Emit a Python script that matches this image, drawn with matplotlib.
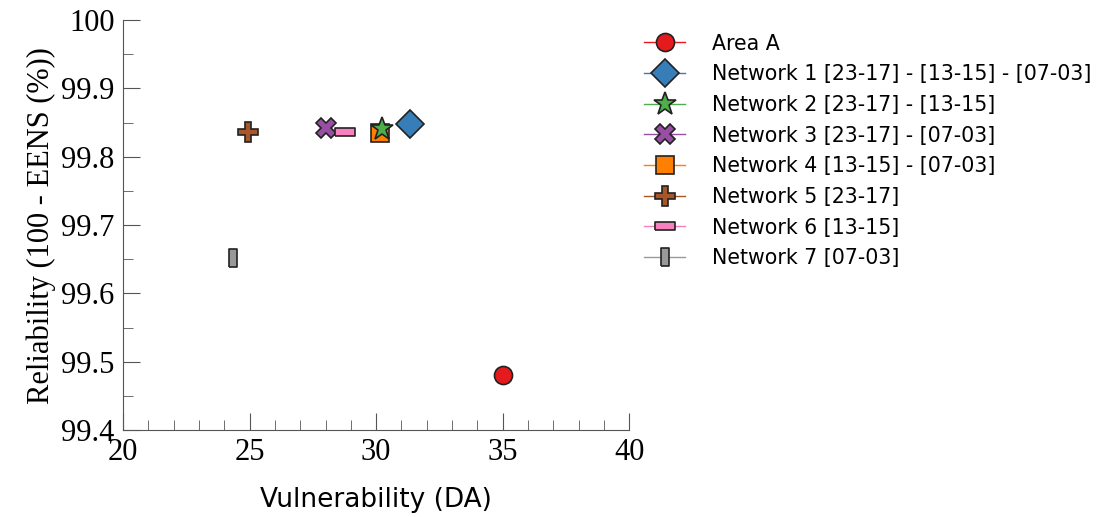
import numpy as np
import matplotlib
matplotlib.use('Agg')
import matplotlib.pyplot as plt

# data
labels = ['Area A',
          'Network 1 [23-17] - [13-15] - [07-03]',
          'Network 2 [23-17] - [13-15]',
          'Network 3 [23-17] - [07-03]',
          'Network 4 [13-15] - [07-03]',
          'Network 5 [23-17]',
          'Network 6 [13-15]',
          'Network 7 [07-03]']
vulnerability = [35.0, 31.35, 30.24, 28.0, 30.16, 24.94, 28.77, 24.35]
reliability = [99.48, 99.848, 99.840, 99.842, 99.835, 99.837, 99.836, 99.652]

colors = ['#e41a1c', '#377eb8', '#4daf4a', '#984ea3', '#ff7f00', '#a65628', '#f781bf', '#999999']
hrect = [(-1, -0.45), (1, -0.45), (1, 0.45), (-1, 0.45), (-1, -0.45)]
vrect = [(-0.45, -1), (0.45, -1), (0.45, 1), (-0.45, 1), (-0.45, -1)]
markers = ['o', 'D', '*', 'X', 's', 'P', hrect, vrect]
sizes = [13, 14, 17, 15, 13, 14, 14, 13]
zorders = [3, 3, 5, 3, 4, 3, 3, 3]

serif = 'Liberation Serif'
sans = 'DejaVu Sans'

fig = plt.figure(figsize=(11.08, 5.17), dpi=100)
ax = fig.add_axes([0.111, 0.168, 0.457, 0.793])

for x, y, c, m, s, z, lab in zip(vulnerability, reliability, colors, markers, sizes, zorders, labels):
    ax.plot([x], [y], color=c, lw=1, marker=m, markersize=s,
            markerfacecolor=c, markeredgecolor='#222222', markeredgewidth=1.2,
            label=lab, zorder=z)

ax.set_xlim(20, 40)
ax.set_ylim(99.4, 100)
ax.set_xticks(np.arange(20, 41, 5))
ax.set_xticks(np.arange(20, 41, 1), minor=True)
ax.set_yticks(np.arange(99.4, 100.001, 0.1))
ax.set_yticks(np.arange(99.4, 100.001, 0.05), minor=True)
ax.set_yticklabels(['99.4', '99.5', '99.6', '99.7', '99.8', '99.9', '100'])

for sp in ['top', 'right']:
    ax.spines[sp].set_visible(False)
for sp in ['left', 'bottom']:
    ax.spines[sp].set_color('#555555')
ax.tick_params(which='both', direction='in', colors='#555555', labelcolor='black')
ax.tick_params(which='major', length=12, pad=6)
ax.tick_params(which='minor', length=7)
for t in ax.get_xticklabels() + ax.get_yticklabels():
    t.set_fontfamily(serif)
    t.set_fontsize(22)

ax.set_xlabel('Vulnerability (DA)', fontsize=19, family=sans, labelpad=14)
ax.set_ylabel('Reliability (100 - EENS (%))', fontsize=22, family=serif, labelpad=4)

leg = ax.legend(loc='upper left', bbox_to_anchor=(0.574, 0.951),
                bbox_transform=fig.transFigure, frameon=False,
                prop={'family': sans, 'size': 14.8}, handlelength=2.0,
                labelspacing=0.52, handletextpad=1.3, borderaxespad=0)

fig.savefig('out.png', dpi=100)
